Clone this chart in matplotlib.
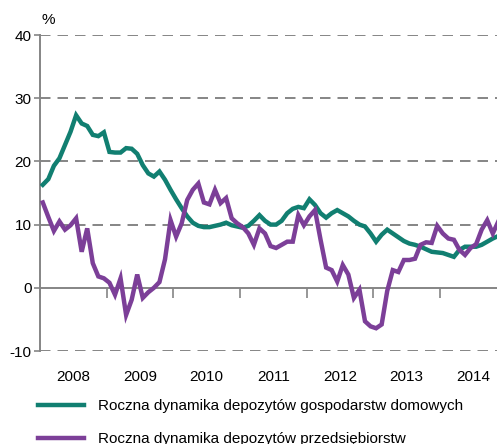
import numpy as np
import matplotlib
matplotlib.use('Agg')
import matplotlib.pyplot as plt
from matplotlib.lines import Line2D

plt.rcParams['font.family'] = ['Liberation Sans', 'DejaVu Sans']
plt.rcParams['axes.unicode_minus'] = False

# monthly data, Jan 2008 - Nov 2014, % y/y
households = [16.3, 17.2, 19.3, 20.5, 22.6, 24.7, 27.3, 26.0, 25.6, 24.2,
              24.0, 24.6, 21.5, 21.4, 21.4, 22.1, 22.0, 21.2, 19.4, 18.1,
              17.6, 18.4, 17.1, 15.5, 14.0, 12.6, 11.3, 10.3, 9.8, 9.6,
              9.6, 9.8, 10.0, 10.3, 9.9, 9.7, 9.5, 9.8, 10.6, 11.5,
              10.6, 10.0, 10.0, 10.6, 11.8, 12.5, 12.8, 12.6, 14.0, 13.1,
              11.8, 11.1, 11.8, 12.3, 11.8, 11.3, 10.6, 10.0, 9.7, 8.6,
              7.3, 8.4, 9.2, 8.6, 8.0, 7.4, 7.0, 6.8, 6.5, 6.1,
              5.7, 5.6, 5.5, 5.2, 4.9, 6.0, 6.5, 6.5, 6.5, 6.8,
              7.3, 7.8, 8.2]
companies = [13.5, 11.2, 9.0, 10.5, 9.2, 9.9, 11.0, 5.7, 9.4, 3.9,
             1.8, 1.5, 0.8, -1.1, 1.5, -4.3, -1.9, 2.1, -1.6, -0.7,
             0.0, 0.9, 4.5, 10.7, 8.1, 10.2, 13.9, 15.5, 16.5, 13.5,
             13.2, 15.5, 13.4, 14.2, 11.0, 10.2, 9.6, 8.6, 6.8, 9.4,
             8.6, 6.6, 6.3, 6.8, 7.3, 7.3, 11.5, 9.9, 11.3, 12.3,
             7.6, 3.2, 2.8, 1.0, 3.6, 2.1, -1.6, -0.3, -5.3, -6.1,
             -6.4, -5.8, -0.5, 2.8, 2.5, 4.4, 4.4, 4.6, 6.8, 7.2,
             7.1, 9.8, 8.6, 7.8, 7.6, 6.0, 5.2, 6.3, 6.9, 9.2,
             10.7, 8.6, 10.5]
years = [2008, 2009, 2010, 2011, 2012, 2013, 2014]
y_ticks = [-10, 0, 10, 20, 30, 40]
labels = ['Roczna dynamika depozytów gospodarstw domowych',
          'Roczna dynamika depozytów przedsiębiorstw']

GREEN = '#117f71'
PURPLE = '#7c3f98'
GREY = '#858585'
LW = 3.2

t = 2008 + (np.arange(len(households)) + 0.5) / 12.0

fig = plt.figure(figsize=(4.97, 4.44), dpi=100)
ax = fig.add_axes([40/497, 93/444, 457/497, 316/444])

# dashed grid (not at zero)
for v in y_ticks:
    if v != 0:
        ax.axhline(v, color=GREY, lw=1.4, dashes=(5.4, 3.6), zorder=1)

ax.plot(t, households, color=GREEN, lw=LW, zorder=3, solid_joinstyle='miter')
ax.plot(t, companies, color=PURPLE, lw=LW, zorder=4, solid_joinstyle='miter')

ax.set_xlim(2008, 2014.855)
ax.set_ylim(-10, 40)

for s in ('top', 'right'):
    ax.spines[s].set_visible(False)
ax.spines['left'].set_color(GREY)
ax.spines['left'].set_linewidth(1.4)
ax.spines['bottom'].set_position(('data', 0))
ax.spines['bottom'].set_color(GREY)
ax.spines['bottom'].set_linewidth(1.4)

ax.set_yticks(y_ticks)
ax.tick_params(axis='y', direction='out', length=4, width=1.2, color=GREY,
               labelsize=11, pad=2)
ax.set_xticks(years)
ax.tick_params(axis='x', direction='out', length=7, width=1.2, color=GREY,
               labelbottom=False)

# year labels in the middle of each year, below the plot
sec = ax.secondary_xaxis('bottom')
sec.set_xticks([y + 0.5 for y in years], [str(y) for y in years])
sec.tick_params(length=0, labelsize=11, pad=14)
sec.spines['bottom'].set_visible(False)

fig.text(42/497, 1 - 20/444, '%', fontsize=11, ha='left', va='center')

handles = [Line2D([], [], color=GREEN, lw=LW),
           Line2D([], [], color=PURPLE, lw=LW)]
fig.legend(handles, labels, loc='upper left', bbox_to_anchor=(38/497, 1 - 399/444),
           frameon=False, fontsize=11, handlelength=3.0, handletextpad=0.9,
           labelspacing=1.25, borderaxespad=0, borderpad=0)

fig.savefig('out.png', dpi=100)
